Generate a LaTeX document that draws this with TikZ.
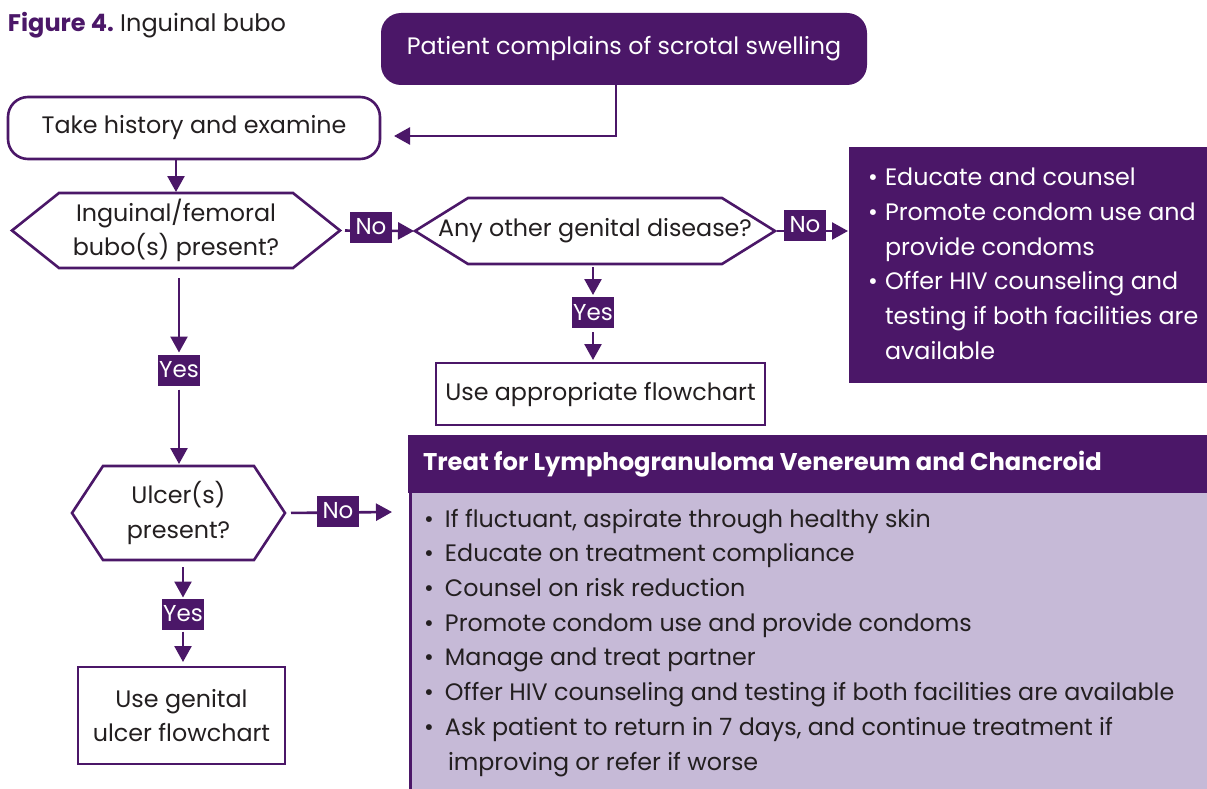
\documentclass[tikz,border=0pt]{standalone}
\usepackage{fontspec}
\setmainfont{Poppins}
\usetikzlibrary{arrows.meta,calc}
\definecolor{plum}{HTML}{4B1768}
\definecolor{lav}{HTML}{C6BAD7}
\definecolor{ink}{HTML}{231F20}

% hexagonal decision border around a (borderless) rectangular node
\newcommand\hexborder[2]{%
  \draw[plum,line width=2.6pt,line join=miter]
    (#1.west) -- ($(#1.north west)+(#2,0)$) -- ($(#1.north east)+(-#2,0)$)
    -- (#1.east) -- ($(#1.south east)+(-#2,0)$) -- ($(#1.south west)+(#2,0)$) -- cycle;}

\begin{document}
\begin{tikzpicture}[x=1pt,y=-1pt,
  every node/.style={inner sep=0pt,outer sep=0pt},
  body/.style={font=\fontsize{23.8}{34.7}\selectfont,text=ink},
  conn/.style={draw=plum,line width=2.6pt,-{Triangle[length=16pt,width=17pt]}},
  lbl/.style={fill=plum,text=white,font=\fontsize{23}{26}\selectfont,
    minimum width=42pt,minimum height=31pt},
  roundbox/.style={body,draw=plum,line width=2.6pt,rounded corners=20pt},
  sqbox/.style={body,draw=plum,line width=2.6pt,align=center},
  decision/.style={body,align=center}
]
\useasboundingbox[fill=white] (0,0) rectangle (1207,789);

% title
\node[anchor=base west,font=\fontsize{24}{28}\selectfont] (title) at (8,32)
  {\textcolor{plum}{\bfseries Figure 4.}\ \textcolor{ink}{Inguinal bubo}};

% top of the chart
\node[fill=plum,text=white,rounded corners=20pt,minimum width=486pt,minimum height=72pt,
  font=\fontsize{23.8}{28}\selectfont] (start) at (624,49) {Patient complains of scrotal swelling};
\node[roundbox,minimum width=372pt,minimum height=62pt] (take) at (194,128) {Take history and examine};

% decisions
\node[decision,minimum width=328pt,minimum height=75pt] (bubo) at (176,230.5)
  {Inguinal/femoral\\bubo(s) present?};
\hexborder{bubo}{47}
\node[decision,minimum width=360pt,minimum height=66pt] (other) at (595,231)
  {Any other genital disease?};
\hexborder{other}{53}
\node[decision,minimum width=213pt,minimum height=94pt] (ulcer) at (178.5,513)
  {Ulcer(s)\\present?};
\hexborder{ulcer}{31}

% outcome boxes
\node[sqbox,minimum width=329pt,minimum height=62pt] (approp) at (600.5,394)
  {Use appropriate flowchart};
\node[sqbox,minimum width=207pt,minimum height=97pt] (genital) at (181.5,715.5)
  {Use genital\\ulcer flowchart};

% education box (top right)
\node[fill=plum,minimum width=358pt,minimum height=236pt] (educ) at (1028,265) {};
\node[anchor=north west,text=white,align=left,font=\fontsize{23.8}{34.7}\selectfont]
  (eductext) at (868,168)
  {\makebox[17pt][l]{\textbullet}Educate and counsel\\
   \makebox[17pt][l]{\textbullet}Promote condom use and\\
   \hspace*{17pt}provide condoms\\
   \makebox[17pt][l]{\textbullet}Offer HIV counseling and\\
   \hspace*{17pt}testing if both facilities are\\
   \hspace*{17pt}available};

% treatment box (bottom right)
\node[fill=lav,anchor=north west,minimum width=797pt,minimum height=296pt] (lgvbody) at (410,493) {};
\node[fill=plum,anchor=north west,minimum width=799pt,minimum height=58pt] (lgvhead) at (408,435) {};
\draw[plum,line width=3pt] ($(lgvbody.north west)+(0.5,0)$) -- ($(lgvbody.south west)+(0.5,0)$);
\node[anchor=west,text=white,font=\bfseries\fontsize{24.2}{28}\selectfont] (lgvtitle)
  at ($(lgvhead.west)+(15,0)$) {Treat for Lymphogranuloma Venereum and Chancroid};
\node[anchor=north west,body,align=left] (lgvtext) at (424,509)
  {\makebox[21pt][l]{\textbullet}If fluctuant, aspirate through healthy skin\\
   \makebox[21pt][l]{\textbullet}Educate on treatment compliance\\
   \makebox[21pt][l]{\textbullet}Counsel on risk reduction\\
   \makebox[21pt][l]{\textbullet}Promote condom use and provide condoms\\
   \makebox[21pt][l]{\textbullet}Manage and treat partner\\
   \makebox[21pt][l]{\textbullet}Offer HIV counseling and testing if both facilities are available\\
   \makebox[21pt][l]{\textbullet}Ask patient to return in 7 days, and continue treatment if\\
   \hspace*{24pt}improving or refer if worse};

% connectors
\coordinate (lgvin) at (392,512);
\draw[conn] ([xshift=-8pt]start.south) |- ($(take.east)+(14,8)$);
\draw[conn,shorten >=1pt] (take.south -| bubo.north) -- (bubo.north);
\draw[conn,shorten <=5pt,shorten >=1pt] (bubo.east) -- (other.west);
\draw[conn,shorten <=2pt,shorten >=1pt] (other.east) -- (educ.west |- other.east);
\draw[conn,shorten <=6pt] (ulcer.east) -- (lgvin);

\node[lbl] (no1) at (371,227) {No};
\node[lbl] (no2) at (805,225) {No};
\node[lbl] (no3) at (338,511) {No};
\node[lbl] (yes1) at (179,370) {Yes};
\node[lbl] (yes2) at (593,312.5) {Yes};
\node[lbl] (yes3) at (183,614) {Yes};

\draw[conn,shorten <=10pt,shorten >=2pt] (bubo.south -| yes1) -- (yes1.north);
\draw[conn,shorten <=4pt,shorten >=2pt] (yes1.south) -- (ulcer.north -| yes1);
\draw[conn,shorten <=3pt,shorten >=2pt] (other.south -| yes2) -- (yes2.north);
\draw[conn,shorten <=4pt,shorten >=3pt] (yes2.south) -- (approp.north -| yes2);
\draw[conn,shorten <=7pt,shorten >=1pt] (ulcer.south -| yes3) -- (yes3.north);
\draw[conn,shorten <=2pt,shorten >=5pt] (yes3.south) -- (genital.north -| yes3);
\end{tikzpicture}
\end{document}
